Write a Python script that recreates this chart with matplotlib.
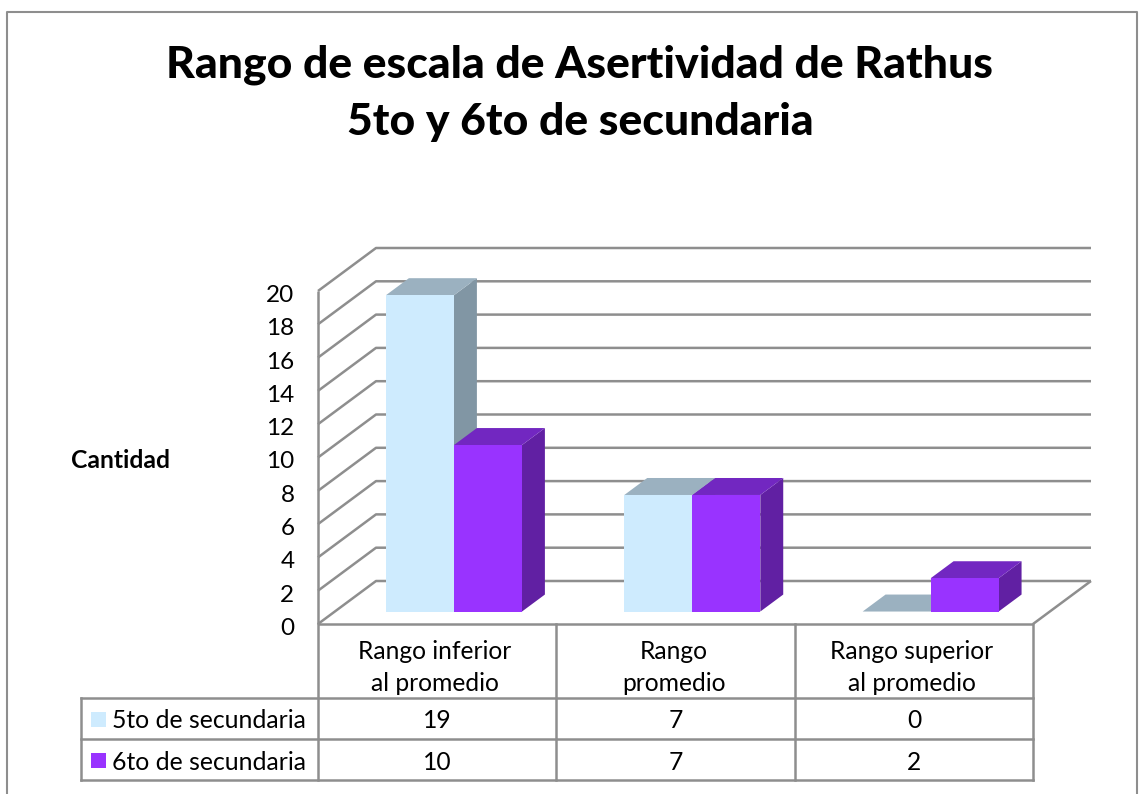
import numpy as np
import matplotlib
matplotlib.use('Agg')
import matplotlib.pyplot as plt
from matplotlib.lines import Line2D
from matplotlib.patches import Rectangle
from matplotlib.transforms import ScaledTranslation

# Data
categories = ['Rango inferior\nal promedio', 'Rango\npromedio', 'Rango superior\nal promedio']
series_names = ['5to de secundaria', '6to de secundaria']
values_5to = [19, 7, 0]
values_6to = [10, 7, 2]
y_ticks = list(range(0, 21, 2))
title = 'Rango de escala de Asertividad de Rathus\n5to y 6to de secundaria'
y_label = 'Cantidad'

# Colours: front, top, side
colors_5to = ['#CEEBFE', '#9BB1C0', '#8196A4']
colors_6to = ['#9933FF', '#7227C1', '#6120A3']
grid_color = '#8E8E8E'

W, H = 1139, 794
plt.rcParams['font.family'] = ['Lato', 'DejaVu Sans']

fig = plt.figure(figsize=(W / 100, H / 100), dpi=100)

# Front plane of the chart: one x unit is a category, y is the value
ax = fig.add_axes([318 / W, (H - 624) / H, 715 / W, 333 / H])
ax.set_xlim(0, 3)
ax.set_ylim(0, 20)
for s in ax.spines.values():
    s.set_visible(False)
ax.patch.set_visible(False)
ax.set_xticks([])
ax.set_yticks(y_ticks)
ax.tick_params(axis='y', length=0, pad=17, labelsize=17.5)
# labels sit a little under their gridline in the original
down = ScaledTranslation(0, -2.5 / 100, fig.dpi_scale_trans)
for lab in ax.get_yticklabels():
    lab.set_transform(lab.get_transform() + down)

# Depth of the fake 3D box, in data units
depth_x = 58 / (715 / 3)
depth_y = 43 / (333 / 20)
bar_front = 0.29
bar_back = 0.685
bar_w = 68 / (715 / 3)


def skew(x, y, d):
    return x + d * depth_x, y + d * depth_y


# Walls and gridlines
line_kw = dict(color=grid_color, lw=1.8, clip_on=False, zorder=1, solid_capstyle='butt')
for v in y_ticks:
    x0, y0 = skew(0, v, 0)
    x1, y1 = skew(0, v, 1)
    x2, y2 = skew(3, v, 1)
    ax.plot([x0, x1, x2], [y0, y1, y2], **line_kw)
x1, y1 = skew(3, 0, 1)
ax.plot([3, x1], [0, y1], **line_kw)
ax.plot([0, 0], [0, 20], **line_kw)
ax.plot([0, 3], [0, 0], **line_kw)


def draw_bar(left, value, colors, z):
    right = left + bar_w
    fr_l = skew(left, value, bar_front)
    fr_r = skew(right, value, bar_front)
    bk_l = skew(left, value, bar_back)
    bk_r = skew(right, value, bar_back)
    bot_r = skew(right, 0, bar_front)
    bot_br = skew(right, 0, bar_back)
    bot_l = skew(left, 0, bar_front)
    ax.fill([bot_r[0], bot_br[0], bk_r[0], fr_r[0]], [bot_r[1], bot_br[1], bk_r[1], fr_r[1]],
            color=colors[2], lw=0, clip_on=False, zorder=z)
    ax.fill([fr_l[0], fr_r[0], bk_r[0], bk_l[0]], [fr_l[1], fr_r[1], bk_r[1], bk_l[1]],
            color=colors[1], lw=0, clip_on=False, zorder=z)
    ax.fill([bot_l[0], bot_r[0], fr_r[0], fr_l[0]], [bot_l[1], bot_r[1], fr_r[1], fr_l[1]],
            color=colors[0], lw=0, clip_on=False, zorder=z)


for i in range(len(categories)):
    draw_bar(i + 0.5 - bar_w, values_5to[i], colors_5to, 3 + i)
    draw_bar(i + 0.5, values_6to[i], colors_6to, 3.5 + i)


# Everything outside the plot goes on in pixels from the top left
def px_line(xs, ys, lw=1.8):
    fig.add_artist(Line2D([x / W for x in xs], [1 - y / H for y in ys], color=grid_color, lw=lw))


def px_text(x, y, s, va='center_baseline', **kw):
    fig.text(x / W, 1 - y / H, s, va=va, **kw)


# Outer frame
px_line([7, 7, 1137, 1137], [794, 12, 12, 794], lw=1.5)

# Title and axis label
px_text(580, 93.5, title, va='center', ha='center', fontsize=32, fontweight='black', linespacing=1.53)
px_text(120, 459, y_label, ha='center', fontsize=17.8, fontweight='bold')

# Data table
col_x = [318, 556, 795, 1033]
px_line([81, 1033], [698, 698])
px_line([81, 1033], [739, 739])
px_line([81, 1033], [780, 780])
px_line([81, 81], [698, 780])
for cx in col_x:
    px_line([cx, cx], [624, 780])

for i, cat in enumerate(categories):
    cx = (col_x[i] + col_x[i + 1]) / 2
    px_text(cx - 2, 667.5, cat, va='center', ha='center', fontsize=17.7, linespacing=1.5)
    px_text(cx, 719, str(values_5to[i]), ha='center', fontsize=17.7)
    px_text(cx, 760, str(values_6to[i]), ha='center', fontsize=17.7)

rows = [(719, colors_5to[0]), (760, colors_6to[0])]
for name, (ry, col) in zip(series_names, rows):
    fig.add_artist(Rectangle((91 / W, 1 - (ry + 7.5) / H), 15 / W, 15 / H, color=col, lw=0))
    px_text(112, ry, name, ha='left', fontsize=17.8)

fig.savefig('out.png', dpi=100)
